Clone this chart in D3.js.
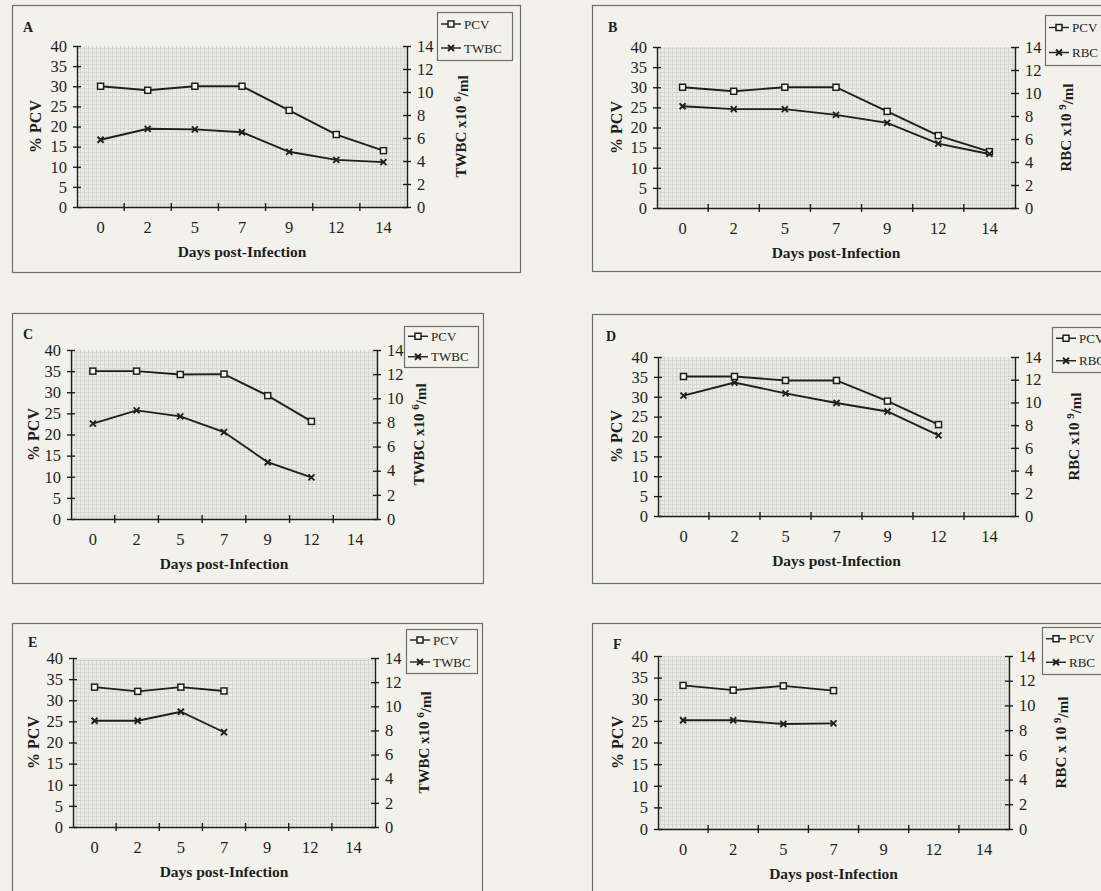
<!DOCTYPE html>
<html>
<head>
<meta charset="utf-8">
<script src="https://cdn.jsdelivr.net/npm/d3@7"></script>
<style>
  body { margin: 0; background: #f2f1eb; }
  svg { display: block; font-family: "Liberation Serif", "Times New Roman", serif; }
</style>
</head>
<body>
<svg width="1101" height="891"></svg>
<script>
// days post-infection (categories)
const days = ["0", "2", "5", "7", "9", "12", "14"];
const leftTicks = [0, 5, 10, 15, 20, 25, 30, 35, 40];
const rightTicks = [0, 2, 4, 6, 8, 10, 12, 14];

// series values
const pcvA = [30, 29, 30, 30, 24, 18, 14];
const twbcA = [5.85, 6.8, 6.75, 6.5, 4.8, 4.1, 3.9];
const pcvB = [30, 29, 30, 30, 24, 18, 14];
const rbcB = [8.85, 8.6, 8.6, 8.1, 7.4, 5.6, 4.7];
const pcvC = [35, 35, 34.2, 34.3, 29.2, 23.1];
const twbcC = [7.9, 9.0, 8.5, 7.2, 4.7, 3.45];
const pcvD = [35.1, 35.1, 34.1, 34.1, 28.9, 23];
const rbcD = [10.6, 11.75, 10.8, 9.95, 9.2, 7.1];
const pcvE = [33.1, 32.1, 33.1, 32.2];
const twbcE = [8.8, 8.8, 9.55, 7.85];
const pcvF = [33.2, 32.1, 33.1, 32];
const rbcF = [8.8, 8.8, 8.5, 8.55];

const ink = "#1e1e1e";
const frame = "#6e6e6e";
const serif = "'Liberation Serif', 'Times New Roman', serif";

// layout of each panel (box, plot area, legend)
const panels = [
  { id: "A", pcv: pcvA, other: twbcA, name: "TWBC", pre: "TWBC x10 ", sup: "6",
    box: [12, 5, 520, 272], plot: [77, 46, 407, 207], legend: [437, 12, 512, 60], letter: [23, 32], ltx: 35, rtx: 461 },
  { id: "B", pcv: pcvB, other: rbcB, name: "RBC", pre: "RBC x10 ", sup: "9",
    box: [592, 5, 1108, 271], plot: [657, 47, 1015, 208], legend: [1045, 15, 1112, 65], letter: [608, 32], ltx: 616, rtx: 1066 },
  { id: "C", pcv: pcvC, other: twbcC, name: "TWBC", pre: "TWBC x10 ", sup: "6",
    box: [12, 313, 483, 583], plot: [71, 350, 377, 519], legend: [404, 326, 478, 367], letter: [23, 339], ltx: 33, rtx: 419 },
  { id: "D", pcv: pcvD, other: rbcD, name: "RBC", pre: "RBC x10 ", sup: "9",
    box: [592, 314, 1108, 583], plot: [658, 357, 1015, 516], legend: [1052, 327, 1112, 372], letter: [606, 341], ltx: 616, rtx: 1074 },
  { id: "E", pcv: pcvE, other: twbcE, name: "TWBC", pre: "TWBC x10 ", sup: "6",
    box: [12, 623, 482, 898], plot: [73, 658, 375, 827], legend: [406, 629, 477, 673], letter: [28, 647], ltx: 33, rtx: 424 },
  { id: "F", pcv: pcvF, other: rbcF, name: "RBC", pre: "RBC x 10 ", sup: "9",
    box: [592, 623, 1108, 898], plot: [658, 656, 1009, 829], legend: [1042, 627, 1112, 674], letter: [613, 649], ltx: 617, rtx: 1061 }
];

const svg = d3.select("svg");

// fine grid texture of the plot area
const defs = svg.append("defs");
const pat = defs.append("pattern")
  .attr("id", "grid")
  .attr("width", 4).attr("height", 4)
  .attr("patternUnits", "userSpaceOnUse");
pat.append("rect").attr("width", 4).attr("height", 4).attr("fill", "#ebebe6");
pat.append("path").attr("d", "M0,0.5H4M0.5,0V4").attr("stroke", "#d6d6d0").attr("stroke-width", 1);

function square(sel, cx, cy) {
  sel.append("rect")
    .attr("x", cx - 3).attr("y", cy - 3)
    .attr("width", 6).attr("height", 6)
    .attr("fill", "#f6f6f2").attr("stroke", ink).attr("stroke-width", 1.5);
}

function cross(sel, cx, cy) {
  sel.append("path")
    .attr("d", `M${cx - 3},${cy - 3}L${cx + 3},${cy + 3}M${cx - 3},${cy + 3}L${cx + 3},${cy - 3}`)
    .attr("stroke", ink).attr("stroke-width", 1.9);
}

function drawPanel(p) {
  const g = svg.append("g");
  const [bx0, by0, bx1, by1] = p.box;
  const [l, t, r, b] = p.plot;

  g.append("rect")
    .attr("x", bx0 + 0.5).attr("y", by0 + 0.5)
    .attr("width", bx1 - bx0).attr("height", by1 - by0)
    .attr("fill", "none").attr("stroke", frame).attr("stroke-width", 1.2);

  const x = d3.scaleBand().domain(days).range([l, r]);
  const yL = d3.scaleLinear().domain([0, 40]).range([b, t]);
  const yR = d3.scaleLinear().domain([0, 14]).range([b, t]);
  const cx = i => x(days[i]) + x.bandwidth() / 2;

  g.append("rect")
    .attr("x", l).attr("y", t)
    .attr("width", r - l).attr("height", b - t)
    .attr("fill", "url(#grid)");

  // left axis
  const axL = g.append("g")
    .attr("transform", `translate(${l},0)`)
    .call(d3.axisLeft(yL).tickValues(leftTicks).tickSize(4).tickSizeOuter(0).tickPadding(6));
  axL.selectAll(".tick line").attr("x1", 4);

  // right axis
  const axR = g.append("g")
    .attr("transform", `translate(${r},0)`)
    .call(d3.axisRight(yR).tickValues(rightTicks).tickSize(4).tickSizeOuter(0).tickPadding(6));
  axR.selectAll(".tick line").attr("x1", -4);

  // bottom axis, ticks sit between categories
  const axB = g.append("g")
    .attr("transform", `translate(0,${b})`)
    .call(d3.axisBottom(x).tickSize(0).tickSizeOuter(0).tickPadding(14));
  axB.selectAll(".tick line").remove();
  axB.selectAll("line.sep")
    .data(days.slice(1))
    .join("line")
    .attr("class", "sep")
    .attr("x1", d => x(d)).attr("x2", d => x(d))
    .attr("y1", -4).attr("y2", 4);

  [axL, axR, axB].forEach(a => {
    a.attr("font-family", serif).attr("font-size", 16.5);
    a.selectAll("text").attr("fill", ink);
    a.select(".domain").attr("stroke", ink).attr("stroke-width", 1.4);
    a.selectAll("line").attr("stroke", ink).attr("stroke-width", 1.4);
  });

  // series lines
  const lineL = d3.line().x((d, i) => cx(i)).y(d => yL(d));
  const lineR = d3.line().x((d, i) => cx(i)).y(d => yR(d));
  g.append("path").datum(p.pcv).attr("d", lineL)
    .attr("fill", "none").attr("stroke", ink).attr("stroke-width", 1.9);
  g.append("path").datum(p.other).attr("d", lineR)
    .attr("fill", "none").attr("stroke", ink).attr("stroke-width", 1.9);
  p.pcv.forEach((d, i) => square(g, cx(i), yL(d)));
  p.other.forEach((d, i) => cross(g, cx(i), yR(d)));

  // titles
  g.append("text")
    .attr("x", p.letter[0]).attr("y", p.letter[1])
    .attr("font-size", 14).attr("font-weight", "bold").attr("fill", ink)
    .text(p.id);

  g.append("text")
    .attr("x", (l + r) / 2).attr("y", b + 50)
    .attr("text-anchor", "middle")
    .attr("font-size", 15.5).attr("font-weight", "bold").attr("fill", ink)
    .text("Days post-Infection");

  g.append("text")
    .attr("transform", `translate(${p.ltx},${(t + b) / 2}) rotate(-90)`)
    .attr("text-anchor", "middle").attr("dy", "0.35em")
    .attr("font-size", 16).attr("font-weight", "bold").attr("fill", ink)
    .text("% PCV");

  const rt = g.append("text")
    .attr("transform", `translate(${p.rtx},${(t + b) / 2}) rotate(-90)`)
    .attr("text-anchor", "middle").attr("dy", "0.35em")
    .attr("font-size", 15).attr("font-weight", "bold").attr("fill", ink);
  rt.append("tspan").text(p.pre);
  rt.append("tspan").attr("dy", "-0.45em").attr("font-size", 11).text(p.sup);
  rt.append("tspan").attr("dy", "0.45em").text("/ml");

  // legend
  const [lx0, ly0, lx1, ly1] = p.legend;
  const lg = g.append("g");
  lg.append("rect")
    .attr("x", lx0 + 0.5).attr("y", ly0 + 0.5)
    .attr("width", lx1 - lx0).attr("height", ly1 - ly0)
    .attr("fill", "#f2f1eb").attr("stroke", frame).attr("stroke-width", 1.2);
  const rows = [["PCV", square], [p.name, cross]];
  const rowH = (ly1 - ly0) / 2;
  rows.forEach(([label, mark], k) => {
    const ry = ly0 + rowH * (k + 0.5);
    lg.append("line")
      .attr("x1", lx0 + 4).attr("x2", lx0 + 24)
      .attr("y1", ry).attr("y2", ry)
      .attr("stroke", ink).attr("stroke-width", 1.4);
    mark(lg, lx0 + 14, ry);
    lg.append("text")
      .attr("x", lx0 + 27).attr("y", ry).attr("dy", "0.35em")
      .attr("font-size", 13).attr("fill", ink)
      .text(label);
  });
}

panels.forEach(drawPanel);
</script>
</body>
</html>
